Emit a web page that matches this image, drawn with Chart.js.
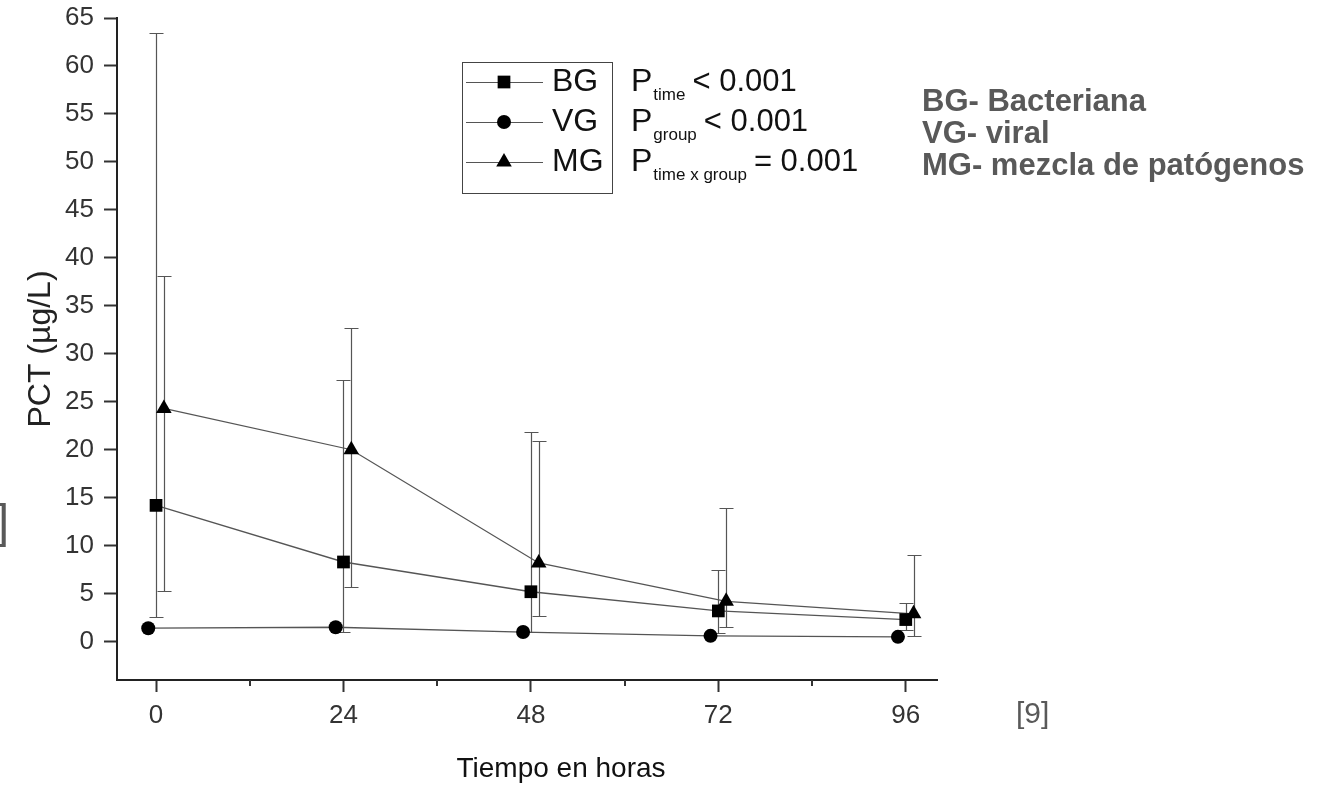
<!DOCTYPE html>
<html>
<head>
<meta charset="utf-8">
<title>PCT por grupo</title>
<script src="https://cdn.jsdelivr.net/npm/chart.js@4.4.1/dist/chart.umd.min.js"></script>
<style>
  body { margin: 0; background: #fff; }
  #wrap {
    position: relative; width: 1322px; height: 785px; overflow: hidden;
    font-family: "Liberation Sans", Arial, sans-serif;
  }
  #pct { position: absolute; left: 0; top: 0; }
  .txt { position: absolute; white-space: nowrap; }
  #xTitle { left: 561px; top: 768px; transform: translate(-50%, -50%); font-size: 28px; color: #111; }
  #groups { left: 922px; top: 85px; font-size: 31px; font-weight: bold; color: #595959; line-height: 32px; }
  #ref9 { left: 1016px; top: 713px; transform: translateY(-50%); font-size: 30px; color: #595959; }
  #refCut { left: -4px; top: 497px; font-size: 47px; line-height: 47px; color: #595959; }
</style>
</head>
<body>
<div id="wrap">
  <canvas id="pct" width="1322" height="785"></canvas>
  <div class="txt" id="xTitle">Tiempo en horas</div>
  <div class="txt" id="groups"></div>
  <div class="txt" id="ref9">[9]</div>
  <div class="txt" id="refCut">]</div>
</div>
<script>
// sampling times (h)
const hours = [0, 24, 48, 72, 96];
const minorHours = [12, 36, 60, 84];

// PCT (µg/L): mean and whisker ends per group
const bgMean = [14.2, 8.3, 5.2, 3.2, 2.3];
const bgUpper = [63.4, 27.3, 21.8, 7.5, 4.0];
const bgLower = [2.6, 1.0, 1.0, 0.9, 1.2];

const vgMean = [1.4, 1.5, 1.0, 0.6, 0.5];

const mgMean = [24.3, 20.0, 8.2, 4.2, 2.9];
const mgUpper = [38.1, 32.7, 20.9, 13.9, 9.0];
const mgLower = [5.3, 5.7, 2.7, 1.5, 0.6];

const groupLabels = ['BG', 'VG', 'MG'];
const groupNotes = ['BG- Bacteriana', 'VG- viral', 'MG- mezcla de patógenos'];
const pNames = ['time', 'group', 'time x group'];
const pValues = ['< 0.001', '< 0.001', '= 0.001'];

const FONT = '"Liberation Sans", Arial, sans-serif';

document.getElementById('groups').innerHTML = groupNotes.map((t) => `<div>${t}</div>`).join('');

// small horizontal shift so the three groups don't overlap at each time
const shift = { BG: 0, VG: -1, MG: 1 };

function points(label, values) {
  return values.map((v, i) => ({ x: hours[i] + shift[label], y: v }));
}

const errorBars = {
  id: 'errorBars',
  beforeDatasetsDraw(chart) {
    const { ctx, scales: { x, y } } = chart;
    ctx.save();
    ctx.strokeStyle = '#555';
    ctx.lineWidth = 1.2;
    chart.data.datasets.forEach((ds) => {
      if (!ds.upper) return;
      ds.data.forEach((pt, i) => {
        const px = Math.round(x.getPixelForValue(pt.x)) + 0.5;
        const top = Math.round(y.getPixelForValue(ds.upper[i])) + 0.5;
        const bot = Math.round(y.getPixelForValue(ds.lower[i])) + 0.5;
        ctx.beginPath();
        ctx.moveTo(px, top);
        ctx.lineTo(px, bot);
        ctx.moveTo(px - 7, top);
        ctx.lineTo(px + 7, top);
        ctx.moveTo(px - 7, bot);
        ctx.lineTo(px + 7, bot);
        ctx.stroke();
      });
    });
    ctx.restore();
  },
};

const minorTicks = {
  id: 'minorTicks',
  afterDraw(chart) {
    const { ctx, scales: { x }, chartArea } = chart;
    ctx.save();
    ctx.strokeStyle = '#333';
    ctx.lineWidth = 2;
    minorHours.forEach((h) => {
      const px = Math.round(x.getPixelForValue(h));
      ctx.beginPath();
      ctx.moveTo(px, chartArea.bottom);
      ctx.lineTo(px, chartArea.bottom + 6);
      ctx.stroke();
    });
    ctx.restore();
  },
};

// boxed key with the p-values next to it
const keyPanel = {
  id: 'keyPanel',
  afterDraw(chart) {
    const { ctx } = chart;
    const rows = [82, 122, 162];
    ctx.save();
    ctx.strokeStyle = '#444';
    ctx.lineWidth = 1;
    ctx.strokeRect(462.5, 62.5, 150, 131);
    ctx.textBaseline = 'middle';
    chart.data.datasets.forEach((ds, i) => {
      const yy = rows[i];
      ctx.strokeStyle = ds.borderColor;
      ctx.lineWidth = 1.2;
      ctx.beginPath();
      ctx.moveTo(466, yy + 0.5);
      ctx.lineTo(543, yy + 0.5);
      ctx.stroke();
      ctx.fillStyle = '#000';
      Chart.helpers.drawPoint(ctx, {
        pointStyle: ds.pointStyle, radius: ds.pointRadius, rotation: 0, borderWidth: 0,
      }, 504, yy);

      ctx.fillStyle = '#111';
      ctx.font = `32px ${FONT}`;
      ctx.fillText(groupLabels[i], 552, yy);
      ctx.fillText('P', 631, yy);
      let cx = 631 + ctx.measureText('P').width + 1;
      ctx.font = `17px ${FONT}`;
      ctx.fillText(pNames[i], cx, yy + 13);
      cx += ctx.measureText(pNames[i]).width + 7;
      ctx.font = `31px ${FONT}`;
      ctx.fillText(pValues[i], cx, yy);
    });
    ctx.restore();
  },
};

const seriesStyle = {
  borderColor: '#555',
  borderWidth: 1.3,
  pointBackgroundColor: '#000',
  pointBorderWidth: 0,
  pointHoverRadius: 0,
};

new Chart(document.getElementById('pct'), {
  type: 'line',
  data: {
    datasets: [
      {
        ...seriesStyle,
        label: 'BG',
        data: points('BG', bgMean),
        upper: bgUpper,
        lower: bgLower,
        pointStyle: 'rect',
        pointRadius: 9,
      },
      {
        ...seriesStyle,
        label: 'VG',
        data: points('VG', vgMean),
        pointStyle: 'circle',
        pointRadius: 7,
      },
      {
        ...seriesStyle,
        label: 'MG',
        data: points('MG', mgMean),
        upper: mgUpper,
        lower: mgLower,
        pointStyle: 'triangle',
        pointRadius: 9,
      },
    ],
  },
  options: {
    responsive: false,
    animation: false,
    events: [],
    layout: { padding: { left: 0, top: 18, right: 385, bottom: 0 } },
    plugins: {
      legend: { display: false },
      tooltip: { enabled: false },
    },
    scales: {
      x: {
        type: 'linear',
        min: -5,
        max: 100,
        border: { color: '#222', width: 2 },
        grid: {
          drawOnChartArea: false, tickLength: 12, tickWidth: 2, tickColor: '#333',
        },
        ticks: {
          stepSize: 24,
          includeBounds: false,
          padding: 8,
          maxRotation: 0,
          color: '#333',
          font: { family: FONT, size: 26 },
        },
        afterFit(scale) { scale.height = 105; },
      },
      y: {
        min: -4,
        max: 65,
        border: { color: '#222', width: 2 },
        grid: {
          drawOnChartArea: false, tickLength: 13, tickWidth: 2, tickColor: '#333',
        },
        ticks: {
          stepSize: 5,
          includeBounds: false,
          padding: 10,
          color: '#333',
          font: { family: FONT, size: 26 },
        },
        title: {
          display: true,
          text: 'PCT (µg/L)',
          color: '#222',
          font: { family: FONT, size: 32 },
          padding: { top: 22, bottom: 0 },
        },
        afterFit(scale) {
          scale.width = 117;
          scale.paddingTop = 0;
          scale.paddingBottom = 0;
        },
      },
    },
  },
  plugins: [errorBars, minorTicks, keyPanel],
});
</script>
</body>
</html>
